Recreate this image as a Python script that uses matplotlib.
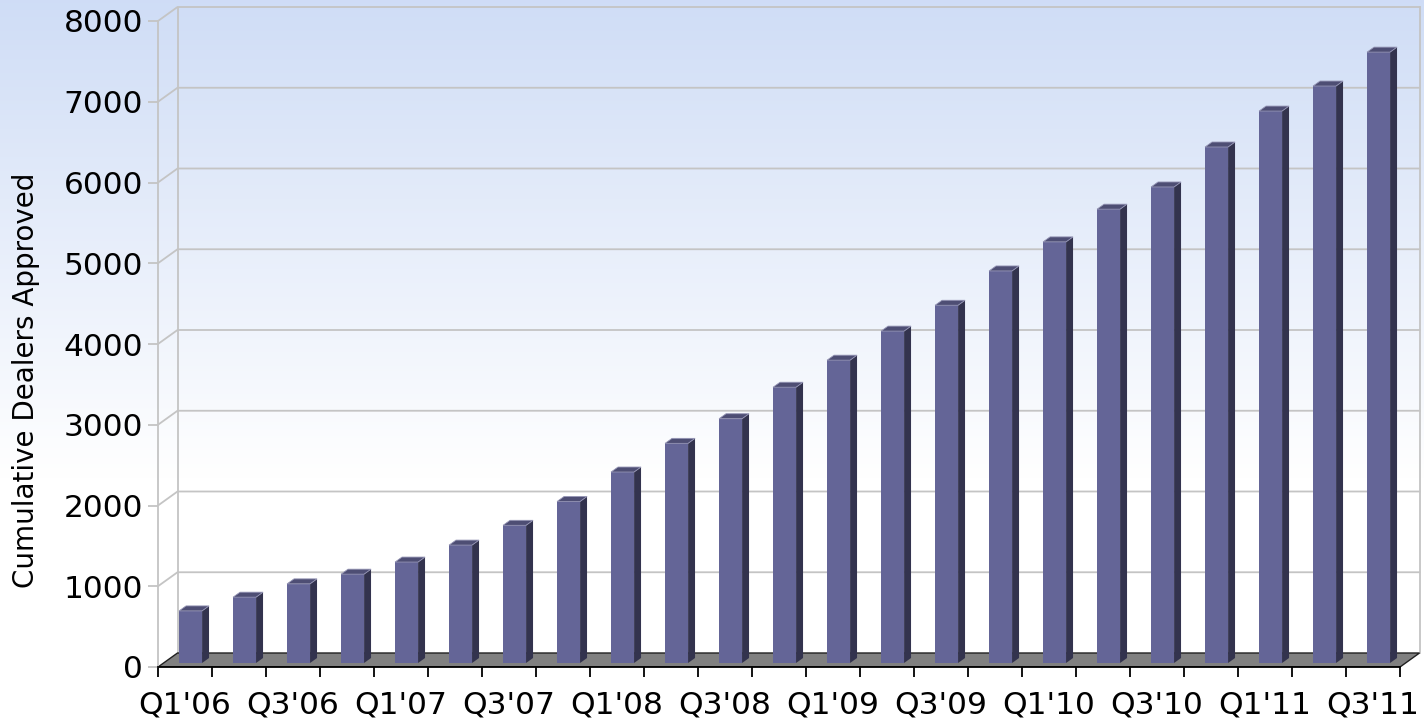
import numpy as np
import matplotlib
matplotlib.use('Agg')
import matplotlib.pyplot as plt
from matplotlib.patches import Polygon

# quarterly cumulative dealer approvals
quarters = ["Q1'06", "Q2'06", "Q3'06", "Q4'06", "Q1'07", "Q2'07", "Q3'07", "Q4'07",
            "Q1'08", "Q2'08", "Q3'08", "Q4'08", "Q1'09", "Q2'09", "Q3'09", "Q4'09",
            "Q1'10", "Q2'10", "Q3'10", "Q4'10", "Q1'11", "Q2'11", "Q3'11"]
dealers = [645, 815, 980, 1100, 1250, 1460, 1705, 2000, 2365, 2720, 3025, 3415,
           3750, 4110, 4430, 4855, 5215, 5620, 5895, 6390, 6835, 7145, 7565]
y_ticks = [0, 1000, 2000, 3000, 4000, 5000, 6000, 7000, 8000]

n = len(quarters)
y_max = 8000

# pseudo 3d depth offset, in data units
DX = 19.5 / 54.0
DY = 14.0 / 0.08075

bar_front = '#646597'
bar_side = '#33334e'
bar_top = '#4e4e74'
grid_col = '#c4c4c4'

fig = plt.figure(figsize=(14.24, 7.25), dpi=100)

# background gradient over the whole figure
bg = fig.add_axes([0, 0, 1, 1], zorder=-10)
h = 725
grad = np.clip(np.linspace(0, 1, h) / 0.66, 0, 1)
top_c = np.array([0.812, 0.866, 0.965])
img = top_c[None, :] * (1 - grad[:, None]) + np.ones(3)[None, :] * grad[:, None]
bg.imshow(img[:, None, :], aspect='auto', extent=[0, 1, 0, 1])
bg.axis('off')

ax = fig.add_axes([158 / 1424, 58 / 725, (n + DX) * 54 / 1424, (y_max + DY) * 0.08075 / 725])
ax.set_facecolor('none')
ax.set_xlim(0, n + DX)
ax.set_ylim(0, y_max + DY)

# floor
floor = Polygon([(0, 0), (n, 0), (n + DX, DY), (DX, DY)], closed=True,
                facecolor='#808080', edgecolor='#202020', lw=1.0, zorder=1)
ax.add_patch(floor)

# back wall gridlines with the diagonal on the left side wall
for v in y_ticks[1:]:
    ax.plot([0, DX, n + DX], [v, v + DY, v + DY], color=grid_col, lw=1.3, zorder=0.5,
            clip_on=False)
ax.plot([DX, DX], [DY, y_max + DY], color=grid_col, lw=1.3, zorder=0.5)
ax.plot([n + DX, n + DX], [DY, y_max + DY], color=grid_col, lw=1.3, zorder=0.5,
        clip_on=False)

# bars
d0, d1 = 0.286, 0.643
w = 0.213
for i, v in enumerate(dealers):
    xl = i + 0.5 - w
    xr = i + 0.5 + w
    front = Polygon([(xl + d0 * DX, d0 * DY), (xr + d0 * DX, d0 * DY),
                     (xr + d0 * DX, v + d0 * DY), (xl + d0 * DX, v + d0 * DY)],
                    facecolor=bar_front, edgecolor='none', zorder=3)
    side = Polygon([(xr + d0 * DX, d0 * DY), (xr + d1 * DX, d1 * DY),
                    (xr + d1 * DX, v + d1 * DY), (xr + d0 * DX, v + d0 * DY)],
                   facecolor=bar_side, edgecolor='none', zorder=3)
    top = Polygon([(xl + d0 * DX, v + d0 * DY), (xr + d0 * DX, v + d0 * DY),
                   (xr + d1 * DX, v + d1 * DY), (xl + d1 * DX, v + d1 * DY)],
                  facecolor=bar_top, edgecolor='#9595b5', lw=0.6, zorder=3)
    for p in (front, side, top):
        ax.add_patch(p)

# axes lines and ticks
for s in ('top', 'right'):
    ax.spines[s].set_visible(False)
ax.spines['left'].set_bounds(0, y_max)
ax.spines['left'].set_color(grid_col)
ax.spines['left'].set_linewidth(1.3)
ax.spines['bottom'].set_bounds(0, n)
ax.spines['bottom'].set_color('black')
ax.spines['bottom'].set_linewidth(1.3)

ax.set_yticks(y_ticks)
ax.set_yticklabels([str(v) for v in y_ticks], fontsize=22.5)
ax.tick_params(axis='y', length=7.2, width=1.3, color=grid_col, pad=3.5)

ax.set_xticks(np.arange(0, n + 1))
ax.set_xticklabels([])
ax.tick_params(axis='x', which='major', length=7.2, width=1.3, color='black')
ax.set_xticks(np.arange(n) + 0.5, minor=True)
ax.set_xticklabels([q if i % 2 == 0 else '' for i, q in enumerate(quarters)], minor=True,
                   fontsize=22.5)
ax.tick_params(axis='x', which='minor', length=0, pad=17)

fig.text(26 / 1424, 1 - 380 / 725, 'Cumulative Dealers Approved', rotation=90,
         ha='center', va='center', fontsize=20)

fig.savefig('out.png', dpi=100)
